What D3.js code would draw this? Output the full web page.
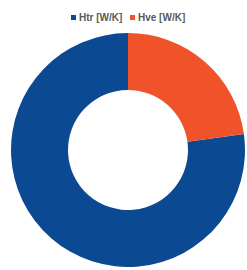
<!DOCTYPE html>
<html><head><meta charset="utf-8">
<script src="https://cdn.jsdelivr.net/npm/d3@7"></script>
<style>body{margin:0;background:#fff}svg{display:block}</style>
</head><body>
<script>
const categories = ["Htr [W/K]", "Hve [W/K]"];
const values = [77.2, 22.8];
const colors = ["#0b4a92", "#f0522a"];

const W = 247, H = 270;
const svg = d3.select("body").append("svg").attr("width", W).attr("height", H);
const cx = 128, cy = 150, rOuter = 117, rInner = 60;

const data = categories.map((c, i) => ({ name: c, value: values[i], color: colors[i] }));
// Excel-style: first slice starts at 12 o'clock clockwise; Hve drawn first from top here
const pie = d3.pie().sort(null).value(d => d.value)
  .startAngle(-2 * Math.PI * values[0] / d3.sum(values)).endAngle(2 * Math.PI * values[1] / d3.sum(values));
const arc = d3.arc().innerRadius(rInner).outerRadius(rOuter);

svg.append("g").attr("transform", `translate(${cx},${cy})`)
  .selectAll("path").data(pie(data)).join("path")
  .attr("d", arc).attr("fill", d => d.data.color);

const legend = svg.append("g").attr("font-family", "Liberation Sans, Arial, sans-serif")
  .attr("font-size", 10).attr("font-weight", "bold").attr("fill", "#595959");
const lx = [71, 130];
data.forEach((d, i) => {
  legend.append("rect").attr("x", lx[i]).attr("y", 15).attr("width", 5).attr("height", 5).attr("fill", d.color);
  legend.append("text").attr("x", lx[i] + 8).attr("y", 21).text(d.name);
});
</script>
</body></html>
